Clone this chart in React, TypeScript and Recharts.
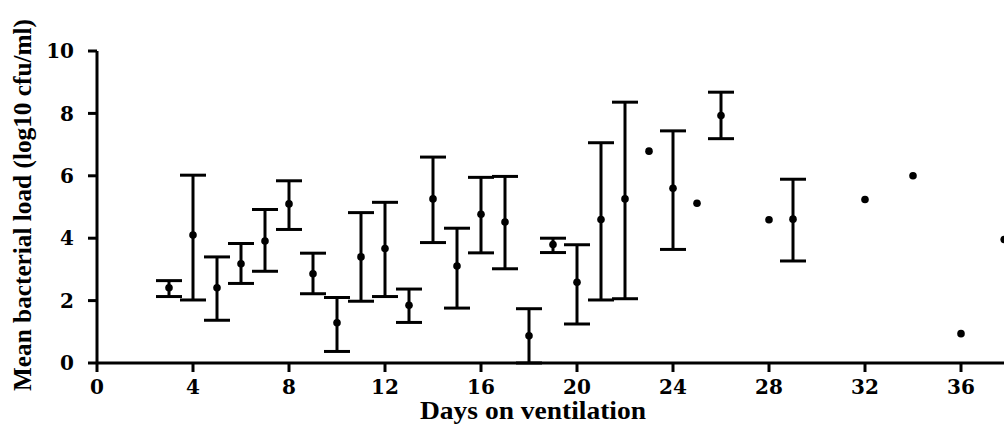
import React from 'react';
import { ScatterChart, Scatter, ErrorBar, XAxis, YAxis, Label } from 'recharts';

// days with mean and the range around it
const days = [3, 4, 5, 6, 7, 8, 9, 10, 11, 12, 13, 14, 15, 16, 17, 18, 19, 20, 21, 22, 24, 26, 29];
const means = [2.41, 4.1, 2.41, 3.18, 3.91, 5.1, 2.86, 1.29, 3.4, 3.67, 1.85, 5.26, 3.11, 4.77, 4.52, 0.87, 3.8, 2.59, 4.6, 5.26, 5.6, 7.93, 4.61];
const uppers = [2.64, 6.02, 3.4, 3.83, 4.92, 5.84, 3.52, 2.1, 4.82, 5.15, 2.37, 6.6, 4.32, 5.95, 5.98, 1.74, 4.0, 3.79, 7.06, 8.36, 7.44, 8.68, 5.89];
const lowers = [2.13, 2.02, 1.37, 2.55, 2.94, 4.28, 2.22, 0.37, 1.98, 2.13, 1.3, 3.86, 1.76, 3.53, 3.02, 0, 3.54, 1.25, 2.02, 2.06, 3.64, 7.19, 3.27];

// single observations (no error bar)
const singleDays = [23, 25, 28, 32, 34, 36, 37.8];
const singleValues = [6.79, 5.12, 4.59, 5.24, 6.0, 0.94, 3.96];

const xTicks = [0, 4, 8, 12, 16, 20, 24, 28, 32, 36];
const yTicks = [0, 2, 4, 6, 8, 10];

const rangeData = days.map((d, i) => ({
  day: d,
  load: means[i],
  err: [means[i] - lowers[i], uppers[i] - means[i]],
}));
const singleData = singleDays.map((d, i) => ({ day: d, load: singleValues[i] }));

const LABEL_FONT = '"Liberation Serif", "Times New Roman", serif';
const TICK_FONT = '"DejaVu Serif", serif';
const tickStyle = { fill: '#000', fontSize: 20, fontWeight: 'bold', fontFamily: TICK_FONT };
const labelStyle = { fill: '#000', fontSize: 25, fontWeight: 'bold', fontFamily: LABEL_FONT };

const Dot = (p: any) => <circle cx={p.cx} cy={p.cy} r={3.8} fill="#000" />;

const W = 1012;
const H = 426;

export default function App() {
  return (
    <div style={{ position: 'absolute', left: 0, top: 0, width: 1004, height: H, overflow: 'hidden', background: '#fff' }}>
      <ScatterChart width={W} height={H} margin={{ top: 51, right: 3, bottom: 0, left: 0 }}>
        <XAxis
          type="number"
          dataKey="day"
          domain={[0, 38]}
          ticks={xTicks}
          allowDataOverflow
          stroke="#000"
          strokeWidth={3}
          tickSize={9}
          tickMargin={8}
          height={63}
          tick={tickStyle}
        >
          <Label
            content={() => (
              <text x={533} y={419} textAnchor="middle" textLength={226} lengthAdjust="spacingAndGlyphs" style={labelStyle}>
                Days on ventilation
              </text>
            )}
          />
        </XAxis>
        <YAxis
          type="number"
          dataKey="load"
          domain={[0, 10]}
          ticks={yTicks}
          stroke="#000"
          strokeWidth={3}
          tickSize={9}
          tickMargin={14}
          width={97}
          tick={tickStyle}
        >
          <Label
            content={() => (
              <text
                x={31}
                y={205}
                textAnchor="middle"
                textLength={372}
                lengthAdjust="spacingAndGlyphs"
                transform="rotate(-90 31 205)"
                style={labelStyle}
              >
                Mean bacterial load (log10 cfu/ml)
              </text>
            )}
          />
        </YAxis>
        <Scatter data={rangeData} fill="#000" shape={Dot} isAnimationActive={false}>
          <ErrorBar dataKey="err" direction="y" width={13} stroke="#000" strokeWidth={3} />
        </Scatter>
        <Scatter data={singleData} fill="#000" shape={Dot} isAnimationActive={false} />
      </ScatterChart>
    </div>
  );
}
